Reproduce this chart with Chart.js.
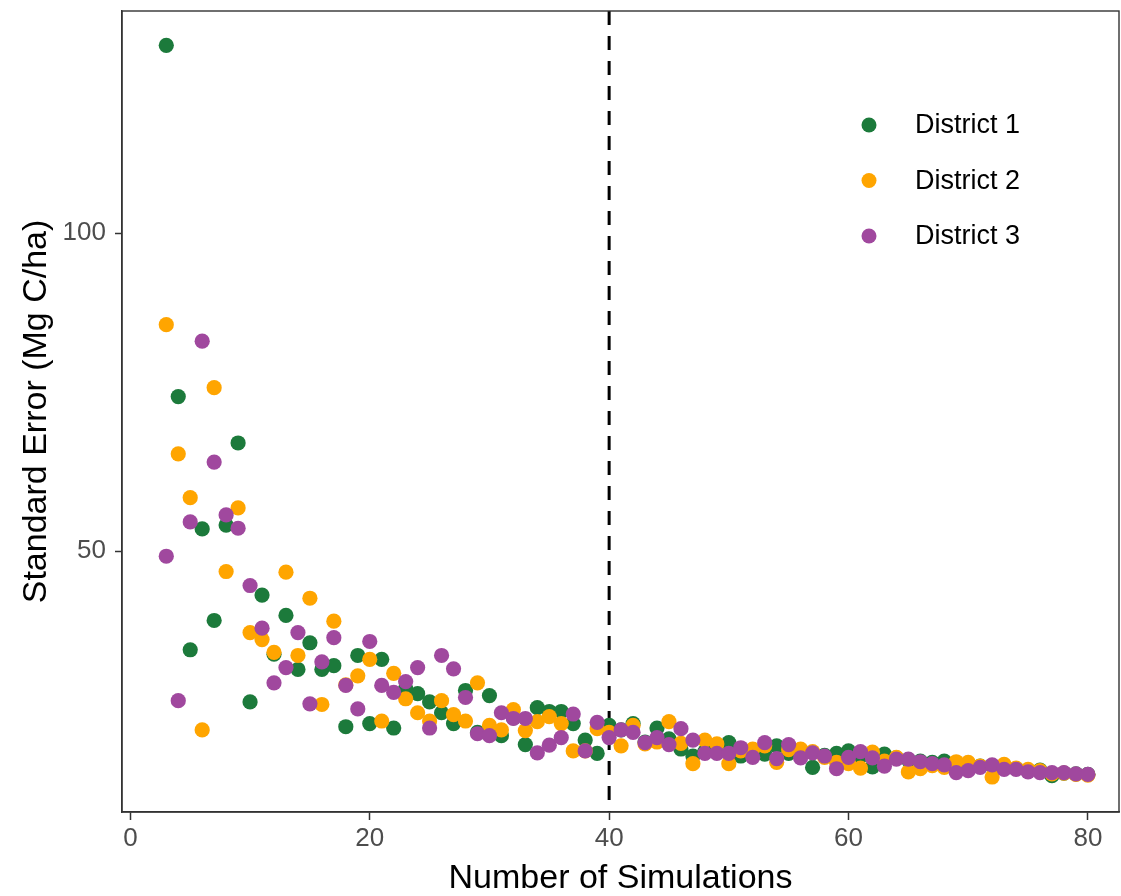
<!DOCTYPE html>
<html>
<head>
<meta charset="utf-8">
<script src="https://cdn.jsdelivr.net/npm/chart.js@4"></script>
<style>
  html, body { margin: 0; padding: 0; background: #fff; }
  #wrap { width: 1121px; height: 896px; }
</style>
</head>
<body>
<div id="wrap"><canvas id="seChart" width="1121" height="896"></canvas></div>
<script>
// ---------- data ----------
const simulations = [3, 4, 5, 6, 7, 8, 9, 10, 11, 12, 13, 14, 15, 16, 17, 18, 19, 20,
  21, 22, 23, 24, 25, 26, 27, 28, 29, 30, 31, 32, 33, 34, 35, 36, 37, 38, 39, 40,
  41, 42, 43, 44, 45, 46, 47, 48, 49, 50, 51, 52, 53, 54, 55, 56, 57, 58, 59, 60,
  61, 62, 63, 64, 65, 66, 67, 68, 69, 70, 71, 72, 73, 74, 75, 76, 77, 78, 79, 80];

const district1 = [129.5, 74.3, 34.5, 53.5, 39.1, 54.1, 67.0, 26.3, 43.1, 33.8, 39.9, 31.4, 35.6, 31.4, 32.0, 22.4, 33.6, 22.9,
  33.0, 22.2, 28.4, 27.6, 26.3, 24.6, 22.9, 28.1, 21.5, 27.3, 21.0, 23.8, 19.6, 25.4, 24.8, 24.8, 22.9, 20.3, 18.2, 22.6,
  21.9, 22.9, 20.0, 22.2, 20.5, 18.9, 17.8, 18.5, 18.4, 19.9, 17.8, 18.3, 18.1, 19.4, 18.2, 18.0, 16.0, 17.9, 18.2, 18.6,
  17.8, 16.1, 18.1, 17.5, 17.2, 17.0, 16.8, 17.0, 16.2, 16.5, 16.2, 16.3, 16.0, 15.8, 15.5, 15.6, 14.7, 15.1, 15.0, 14.9];

const district2 = [85.6, 65.3, 58.4, 21.9, 75.7, 46.8, 56.8, 37.2, 36.1, 34.1, 46.7, 33.6, 42.6, 25.9, 39.0, 29.0, 30.4, 33.0,
  23.3, 30.8, 26.8, 24.6, 23.3, 26.5, 24.3, 23.3, 29.3, 22.6, 21.9, 25.1, 21.8, 23.2, 24.0, 22.9, 18.6, 18.6, 22.1, 21.5,
  19.4, 22.6, 19.7, 20.0, 23.2, 19.8, 16.6, 20.3, 19.7, 16.6, 18.6, 18.9, 19.4, 16.8, 18.8, 18.9, 18.5, 17.6, 16.8, 16.6,
  15.9, 18.4, 17.0, 17.6, 15.3, 15.8, 16.3, 16.0, 16.9, 16.8, 16.2, 14.5, 16.5, 15.9, 15.7, 15.5, 15.0, 15.1, 14.9, 14.8];

const district3 = [49.2, 26.5, 54.6, 83.0, 64.0, 55.7, 53.6, 44.6, 37.9, 29.3, 31.7, 37.2, 26.0, 32.6, 36.4, 28.9, 25.2, 35.8,
  28.9, 27.8, 29.5, 31.7, 22.2, 33.6, 31.5, 27.0, 21.3, 21.0, 24.6, 23.7, 23.7, 18.3, 19.5, 20.7, 24.4, 18.6, 23.1, 20.7,
  21.9, 21.5, 19.9, 20.7, 19.6, 22.1, 20.3, 18.2, 18.2, 18.2, 19.1, 17.6, 19.9, 17.4, 19.6, 17.5, 18.3, 17.8, 15.8, 17.6,
  18.5, 17.5, 16.2, 17.3, 17.3, 16.9, 16.6, 16.4, 15.2, 15.5, 16.0, 16.4, 15.7, 15.7, 15.3, 15.2, 15.2, 15.2, 15.0, 14.9];

const seriesNames = ["District 1", "District 2", "District 3"];
const seriesColors = ["#1c7a3b", "#ffa500", "#a0489e"];
const xTickValues = [0, 20, 40, 60, 80];
const yTickValues = [50, 100];
const cutoffLine = 40;

const FONT = "'Liberation Sans', Arial, Helvetica, sans-serif";

const toPoints = arr => arr.map((v, i) => ({ x: simulations[i], y: v }));
const seriesValues = [district1, district2, district3];

// ---------- plugins ----------
// panel box + dashed cutoff line
const panelPlugin = {
  id: "panel",
  beforeDatasetsDraw(chart) {
    const { ctx, chartArea, scales } = chart;
    const xp = scales.x.getPixelForValue(cutoffLine);
    ctx.save();
    ctx.strokeStyle = "#000";
    ctx.lineWidth = 3;
    ctx.setLineDash([14, 11]);
    ctx.beginPath();
    ctx.moveTo(xp, chartArea.top);
    ctx.lineTo(xp, chartArea.bottom);
    ctx.stroke();
    ctx.restore();
  },
  afterDraw(chart) {
    const { ctx, chartArea } = chart;
    ctx.save();
    ctx.strokeStyle = "#333";
    ctx.lineWidth = 1.4;
    ctx.strokeRect(chartArea.left, chartArea.top,
      chartArea.right - chartArea.left, chartArea.bottom - chartArea.top);
    ctx.restore();
  }
};

// legend inside the panel, top right
const insideLegend = {
  id: "insideLegend",
  afterDraw(chart) {
    const { ctx, chartArea } = chart;
    const x0 = chartArea.right - 250;
    const y0 = chartArea.top + 114;
    ctx.save();
    ctx.font = "27px " + FONT;
    ctx.textBaseline = "middle";
    seriesNames.forEach((name, i) => {
      const y = y0 + i * 55.5;
      ctx.fillStyle = seriesColors[i];
      ctx.beginPath();
      ctx.arc(x0, y, 7.5, 0, Math.PI * 2);
      ctx.fill();
      ctx.fillStyle = "#000";
      ctx.fillText(name, x0 + 46, y + 1);
    });
    ctx.restore();
  }
};

// ---------- chart ----------
new Chart(document.getElementById("seChart"), {
  type: "scatter",
  data: {
    datasets: seriesNames.map((name, i) => ({
      label: name,
      data: toPoints(seriesValues[i]),
      backgroundColor: seriesColors[i],
      borderWidth: 0,
      pointRadius: 7.6,
      pointHoverRadius: 7.6,
      order: 3 - i
    }))
  },
  options: {
    responsive: false,
    animation: false,
    events: [],
    layout: { autoPadding: false, padding: { top: 11, right: 2, left: 0, bottom: 0 } },
    plugins: { legend: { display: false }, tooltip: { enabled: false } },
    scales: {
      x: {
        type: "linear",
        min: -0.7,
        max: 82.6,
        afterBuildTicks: s => { s.ticks = xTickValues.map(v => ({ value: v })); },
        afterFit: s => { s.height = 84; s.paddingLeft = 0; s.paddingRight = 0; },
        grid: { drawOnChartArea: false, drawTicks: true, tickLength: 8, color: "#333", tickWidth: 1.5 },
        border: { display: true, color: "#333", width: 1.4 },
        ticks: { color: "#4d4d4d", font: { family: FONT, size: 26 }, padding: 3, maxRotation: 0 },
        title: {
          display: true,
          text: "Number of Simulations",
          color: "#000",
          font: { family: FONT, size: 34 },
          padding: { top: 0, bottom: -3 }
        }
      },
      y: {
        type: "linear",
        min: 9.0,
        max: 134.9,
        afterBuildTicks: s => { s.ticks = yTickValues.map(v => ({ value: v })); },
        afterFit: s => { s.width = 122; s.paddingTop = 0; s.paddingBottom = 0; },
        grid: { drawOnChartArea: false, drawTicks: true, tickLength: 7, color: "#333", tickWidth: 1.5 },
        border: { display: true, color: "#333", width: 1.4 },
        ticks: { color: "#4d4d4d", font: { family: FONT, size: 26 }, padding: 9 },
        title: {
          display: true,
          text: "Standard Error (Mg C/ha)",
          color: "#000",
          font: { family: FONT, size: 34 },
          padding: { top: 16, bottom: 0 }
        }
      }
    }
  },
  plugins: [panelPlugin, insideLegend]
});
</script>
</body>
</html>
